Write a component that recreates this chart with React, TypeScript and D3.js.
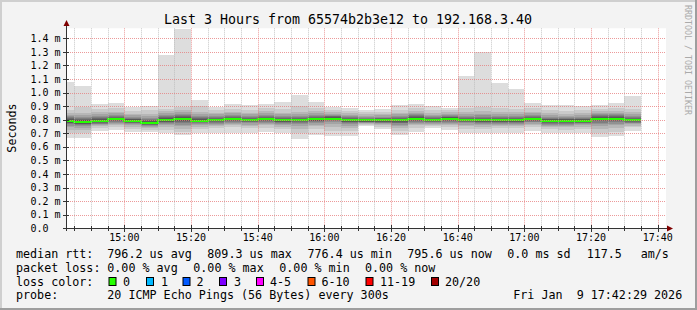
import React from 'react';
import * as d3 from 'd3';

const W = 697;
const H = 310;

const rangeStart = new Date(2026, 0, 9, 14, 42, 29);
const rangeEnd = new Date(2026, 0, 9, 17, 42, 29);

const barStarts = [
  '14:40', '14:45', '14:50', '14:55', '15:00', '15:05', '15:10', '15:15', '15:20', '15:25',
  '15:30', '15:35', '15:40', '15:45', '15:50', '15:55', '16:00', '16:05', '16:10', '16:15',
  '16:20', '16:25', '16:30', '16:35', '16:40', '16:45', '16:50', '16:55', '17:00', '17:05',
  '17:10', '17:15', '17:20', '17:25', '17:30',
];

// median rtt per 5-minute step (ms)
const medianRtt = [
  0.791, 0.783, 0.791, 0.805, 0.791, 0.776, 0.798, 0.805, 0.791, 0.798,
  0.805, 0.798, 0.805, 0.795, 0.798, 0.805, 0.809, 0.795, 0.795, 0.795,
  0.795, 0.808, 0.798, 0.808, 0.798, 0.795, 0.795, 0.795, 0.805, 0.791,
  0.791, 0.791, 0.808, 0.808, 0.796,
];

// 20 sorted ping rtts per step (ms)
const smokePings = [
  [0.663, 0.700, 0.728, 0.745, 0.757, 0.766, 0.773, 0.779, 0.784, 0.789, 0.793, 0.798, 0.804, 0.811, 0.818, 0.826, 0.836, 0.848, 0.870, 1.078],
  [0.663, 0.705, 0.728, 0.742, 0.752, 0.760, 0.767, 0.772, 0.777, 0.781, 0.785, 0.790, 0.796, 0.803, 0.811, 0.820, 0.832, 0.848, 0.895, 1.049],
  [0.717, 0.742, 0.752, 0.760, 0.767, 0.772, 0.777, 0.781, 0.785, 0.789, 0.793, 0.798, 0.804, 0.811, 0.819, 0.828, 0.840, 0.856, 0.880, 0.914],
  [0.724, 0.748, 0.760, 0.770, 0.778, 0.785, 0.790, 0.795, 0.799, 0.803, 0.807, 0.811, 0.816, 0.822, 0.829, 0.837, 0.847, 0.860, 0.885, 0.923],
  [0.707, 0.735, 0.750, 0.760, 0.767, 0.773, 0.778, 0.782, 0.786, 0.789, 0.793, 0.797, 0.802, 0.808, 0.815, 0.823, 0.833, 0.846, 0.868, 0.894],
  [0.707, 0.728, 0.740, 0.748, 0.755, 0.760, 0.765, 0.769, 0.772, 0.774, 0.778, 0.783, 0.789, 0.796, 0.805, 0.815, 0.828, 0.845, 0.870, 0.901],
  [0.700, 0.728, 0.746, 0.758, 0.767, 0.775, 0.781, 0.786, 0.791, 0.795, 0.800, 0.805, 0.811, 0.818, 0.826, 0.836, 0.848, 0.865, 0.880, 1.279],
  [0.685, 0.712, 0.735, 0.752, 0.765, 0.775, 0.783, 0.790, 0.796, 0.802, 0.807, 0.813, 0.819, 0.826, 0.834, 0.843, 0.855, 0.870, 0.895, 1.469],
  [0.705, 0.735, 0.750, 0.761, 0.769, 0.775, 0.780, 0.784, 0.787, 0.789, 0.793, 0.797, 0.803, 0.810, 0.818, 0.828, 0.840, 0.858, 0.905, 0.948],
  [0.700, 0.738, 0.752, 0.763, 0.772, 0.779, 0.785, 0.789, 0.793, 0.796, 0.800, 0.804, 0.809, 0.815, 0.822, 0.830, 0.840, 0.853, 0.870, 0.894],
  [0.700, 0.745, 0.760, 0.770, 0.778, 0.785, 0.791, 0.796, 0.800, 0.803, 0.807, 0.811, 0.816, 0.822, 0.829, 0.837, 0.847, 0.860, 0.880, 0.914],
  [0.705, 0.740, 0.755, 0.765, 0.773, 0.780, 0.785, 0.789, 0.793, 0.796, 0.800, 0.804, 0.809, 0.815, 0.822, 0.830, 0.840, 0.853, 0.875, 0.906],
  [0.707, 0.742, 0.758, 0.769, 0.778, 0.785, 0.791, 0.796, 0.800, 0.803, 0.807, 0.811, 0.816, 0.822, 0.829, 0.837, 0.848, 0.862, 0.885, 0.916],
  [0.700, 0.732, 0.748, 0.760, 0.769, 0.776, 0.782, 0.786, 0.790, 0.793, 0.797, 0.801, 0.806, 0.812, 0.819, 0.828, 0.839, 0.853, 0.880, 0.931],
  [0.656, 0.700, 0.735, 0.755, 0.767, 0.776, 0.783, 0.788, 0.792, 0.796, 0.800, 0.804, 0.809, 0.815, 0.822, 0.831, 0.843, 0.860, 0.900, 0.982],
  [0.690, 0.730, 0.752, 0.765, 0.775, 0.783, 0.789, 0.794, 0.799, 0.803, 0.807, 0.811, 0.816, 0.822, 0.829, 0.838, 0.849, 0.863, 0.890, 0.931],
  [0.680, 0.720, 0.750, 0.768, 0.780, 0.789, 0.795, 0.800, 0.804, 0.807, 0.811, 0.815, 0.819, 0.824, 0.830, 0.837, 0.845, 0.856, 0.872, 0.896],
  [0.680, 0.715, 0.740, 0.756, 0.767, 0.775, 0.781, 0.786, 0.790, 0.793, 0.797, 0.801, 0.806, 0.812, 0.819, 0.827, 0.837, 0.850, 0.868, 0.889],
  [0.754, 0.762, 0.768, 0.773, 0.777, 0.781, 0.784, 0.787, 0.790, 0.793, 0.797, 0.800, 0.804, 0.809, 0.815, 0.822, 0.830, 0.840, 0.855, 0.872],
  [0.731, 0.750, 0.760, 0.767, 0.773, 0.778, 0.782, 0.786, 0.789, 0.793, 0.797, 0.801, 0.805, 0.810, 0.816, 0.823, 0.832, 0.843, 0.860, 0.879],
  [0.685, 0.715, 0.738, 0.754, 0.765, 0.773, 0.779, 0.784, 0.788, 0.793, 0.797, 0.801, 0.806, 0.812, 0.819, 0.828, 0.839, 0.853, 0.875, 0.909],
  [0.712, 0.740, 0.758, 0.770, 0.779, 0.787, 0.793, 0.798, 0.802, 0.806, 0.810, 0.814, 0.819, 0.825, 0.832, 0.840, 0.850, 0.863, 0.885, 0.916],
  [0.737, 0.752, 0.763, 0.771, 0.777, 0.782, 0.786, 0.790, 0.793, 0.796, 0.800, 0.804, 0.808, 0.814, 0.820, 0.828, 0.838, 0.851, 0.872, 0.904],
  [0.724, 0.745, 0.760, 0.771, 0.779, 0.786, 0.792, 0.797, 0.801, 0.806, 0.810, 0.814, 0.818, 0.823, 0.829, 0.836, 0.845, 0.856, 0.870, 0.889],
  [0.700, 0.735, 0.752, 0.764, 0.773, 0.780, 0.785, 0.789, 0.793, 0.796, 0.800, 0.804, 0.809, 0.815, 0.822, 0.831, 0.843, 0.860, 0.890, 1.122],
  [0.700, 0.735, 0.750, 0.761, 0.770, 0.777, 0.782, 0.786, 0.790, 0.793, 0.797, 0.801, 0.807, 0.814, 0.822, 0.832, 0.845, 0.863, 0.895, 1.302],
  [0.700, 0.738, 0.752, 0.762, 0.770, 0.777, 0.782, 0.786, 0.790, 0.793, 0.797, 0.801, 0.806, 0.812, 0.820, 0.829, 0.841, 0.857, 0.885, 1.073],
  [0.700, 0.736, 0.751, 0.762, 0.770, 0.777, 0.782, 0.786, 0.790, 0.793, 0.797, 0.801, 0.806, 0.812, 0.819, 0.828, 0.840, 0.856, 0.880, 1.027],
  [0.719, 0.748, 0.762, 0.772, 0.780, 0.786, 0.791, 0.796, 0.800, 0.803, 0.807, 0.811, 0.816, 0.822, 0.829, 0.837, 0.847, 0.860, 0.883, 0.923],
  [0.700, 0.730, 0.745, 0.756, 0.764, 0.771, 0.776, 0.781, 0.785, 0.789, 0.793, 0.797, 0.802, 0.808, 0.815, 0.823, 0.833, 0.847, 0.872, 0.906],
  [0.700, 0.728, 0.744, 0.756, 0.765, 0.772, 0.778, 0.782, 0.786, 0.789, 0.793, 0.797, 0.802, 0.807, 0.813, 0.820, 0.829, 0.842, 0.868, 0.909],
  [0.700, 0.732, 0.747, 0.758, 0.766, 0.773, 0.778, 0.782, 0.786, 0.789, 0.793, 0.797, 0.802, 0.808, 0.815, 0.823, 0.833, 0.847, 0.870, 0.901],
  [0.670, 0.700, 0.730, 0.752, 0.767, 0.779, 0.788, 0.795, 0.800, 0.806, 0.810, 0.814, 0.819, 0.825, 0.832, 0.840, 0.850, 0.862, 0.882, 0.906],
  [0.683, 0.712, 0.740, 0.758, 0.771, 0.781, 0.789, 0.795, 0.800, 0.806, 0.810, 0.814, 0.819, 0.825, 0.832, 0.840, 0.850, 0.864, 0.888, 0.923],
  [0.719, 0.745, 0.757, 0.766, 0.773, 0.779, 0.784, 0.788, 0.791, 0.794, 0.798, 0.802, 0.807, 0.813, 0.820, 0.829, 0.840, 0.855, 0.880, 0.975],
];

const yTickValues = [0, 0.1, 0.2, 0.3, 0.4, 0.5, 0.6, 0.7, 0.8, 0.9, 1.0, 1.1, 1.2, 1.3, 1.4];
const yTickLabels = ['0.0', '0.1 m', '0.2 m', '0.3 m', '0.4 m', '0.5 m', '0.6 m', '0.7 m', '0.8 m', '0.9 m', '1.0 m', '1.1 m', '1.2 m', '1.3 m', '1.4 m'];
const xTickLabels = ['15:00', '15:20', '15:40', '16:00', '16:20', '16:40', '17:00', '17:20', '17:40'];

const lossLabels = ['0', '1', '2', '3', '4-5', '6-10', '11-19', '20/20'];
const lossColors = ['#26ff00', '#00b8ff', '#0059ff', '#7e00ff', '#ff00ff', '#ff5500', '#ff0000', '#a10000'];
const lossBoxX = [108.5, 146, 182.5, 219, 256, 307.5, 365.5, 431];
const lossTextX = [123, 161, 196.5, 234, 270, 321.5, 380, 445];

const rttRow = [
  { x: 16, t: 'median rtt:' },
  { x: 107.3, t: '796.2 us avg' },
  { x: 207.3, t: '809.3 us max' },
  { x: 307.5, t: '776.4 us min' },
  { x: 407.3, t: '795.6 us now' },
  { x: 507.3, t: '0.0 ms sd' },
  { x: 586.7, t: '117.5' },
  { x: 640.7, t: 'am/s' },
];
const lossRow = [
  { x: 16, t: 'packet loss:' },
  { x: 107.3, t: '0.00 % avg' },
  { x: 193.3, t: '0.00 % max' },
  { x: 279.3, t: '0.00 % min' },
  { x: 365, t: '0.00 % now' },
];

const MONO = '"DejaVu Sans Mono", monospace';

function hm(s: string): Date {
  const [h, m] = s.split(':').map(Number);
  return new Date(2026, 0, 9, h, m, 0);
}

export default function App() {
  const x = d3.scaleTime().domain([rangeStart, rangeEnd]).range([66, 666]);
  const y = d3.scaleLinear().domain([0, 1.474]).range([228.3, 28.3]);

  const bars = barStarts.map((s, i) => {
    const st = hm(s);
    const en = new Date(st.getTime() + 5 * 60 * 1000);
    return { x0: Math.max(x(st), 66), x1: x(en), pings: smokePings[i], med: medianRtt[i] };
  });

  const layerGray = d3.range(1, 11).map((ibot) => {
    const c = Math.floor((190 / 10) * (10 - ibot)) + 50;
    return d3.rgb(c, c, c).formatHex();
  });

  const medPts: [number, number][] = [];
  bars.forEach((b) => {
    const yy = Math.round(y(b.med));
    medPts.push([Math.round(b.x0), yy]);
    medPts.push([Math.round(b.x1), yy]);
  });
  const medLine = d3.line()(medPts) || '';

  const minorTimes = d3.timeMinute.every(5)!.range(hm('14:45'), new Date(rangeEnd.getTime() + 1));
  const majorTimes = xTickLabels.map(hm);
  const isMajor = (d: Date) => d.getMinutes() % 20 === 0;

  return (
    <div style={{ position: 'fixed', left: 0, top: 0 }}>
      <svg width={W} height={H} style={{ display: 'block' }}>
        <rect x={0} y={0} width={W} height={H} fill="#f3f3f3" />
        {/* 3D frame */}
        <line x1={0} y1={1} x2={W} y2={1} stroke="#cfcfcf" strokeWidth={2} />
        <line x1={1} y1={0} x2={1} y2={H} stroke="#cfcfcf" strokeWidth={2} />
        <line x1={0} y1={H - 1} x2={W} y2={H - 1} stroke="#9e9e9e" strokeWidth={2} />
        <line x1={W - 1} y1={0} x2={W - 1} y2={H} stroke="#9e9e9e" strokeWidth={2} />

        {/* canvas */}
        <rect x={66} y={28.3} width={600} height={200} fill="#ffffff" />

        {/* smoke */}
        {bars.map((b, i) => (
          <g key={i}>
            {layerGray.map((col, k) => {
              const lo = b.pings[k];
              const hi = b.pings[19 - k];
              return (
                <rect key={k} x={b.x0} width={b.x1 - b.x0} y={y(hi)} height={y(lo) - y(hi)} fill={col} shapeRendering="crispEdges" />
              );
            })}
          </g>
        ))}

        {/* median */}
        <path d={medLine} fill="none" stroke={lossColors[0]} strokeWidth={2} shapeRendering="crispEdges" />

        {/* grid */}
        {minorTimes.filter((d) => !isMajor(d)).map((d, i) => (
          <line key={'mn' + i} x1={Math.round(x(d)) + 0.5} x2={Math.round(x(d)) + 0.5} y1={28.3} y2={228} stroke="#b8b8b8" strokeDasharray="1,1" strokeOpacity={0.8} />
        ))}
        {majorTimes.map((d, i) => (
          <line key={'mj' + i} x1={Math.round(x(d)) + 0.5} x2={Math.round(x(d)) + 0.5} y1={28.3} y2={228} stroke="#e67878" strokeDasharray="1,1" strokeOpacity={0.75} />
        ))}
        {yTickValues.slice(1).map((v, i) => (
          <line key={'hy' + i} x1={66} x2={666} y1={Math.round(y(v)) + 0.5} y2={Math.round(y(v)) + 0.5} stroke="#e67878" strokeDasharray="1,1" strokeOpacity={0.75} />
        ))}

        {/* axes */}
        <line x1={66.5} x2={66.5} y1={231} y2={24} stroke="#333" strokeWidth={1} />
        <line x1={63} x2={668} y1={228.5} y2={228.5} stroke="#333" strokeWidth={1} />
        <path d="M63.5,26 L66.5,20 L69.5,26 Z" fill="#7f0000" />
        <path d="M667,225.5 L673,228.5 L667,231.5 Z" fill="#7f0000" />
        {yTickValues.map((v, i) => (
          <line key={'yt' + i} x1={63} x2={69} y1={Math.round(y(v)) + 0.5} y2={Math.round(y(v)) + 0.5} stroke="#333" strokeWidth={1} />
        ))}
        {minorTimes.map((d, i) => (
          <line key={'xt' + i} x1={Math.round(x(d)) + 0.5} x2={Math.round(x(d)) + 0.5} y1={isMajor(d) ? 225 : 226} y2={isMajor(d) ? 232 : 231} stroke="#333" strokeWidth={1} />
        ))}

        {/* tick labels */}
        {yTickValues.map((v, i) => (
          <text key={'yl' + i} x={30.5} y={y(v) + 3.6} fontFamily={MONO} fontSize={10} fill="#000">
            {yTickLabels[i]}
          </text>
        ))}
        {majorTimes.map((d, i) => (
          <text key={'xl' + i} x={x(d)} y={241.3} textAnchor="middle" fontFamily={MONO} fontSize={10} fill="#000">
            {xTickLabels[i]}
          </text>
        ))}

        {/* title & labels */}
        <text x={348} y={24} textAnchor="middle" fontFamily={MONO} fontSize={13.3} fill="#000" style={{ whiteSpace: 'pre' }}>
          Last 3 Hours from 65574b2b3e12 to 192.168.3.40
        </text>
        <text transform="translate(15.5,128) rotate(-90)" textAnchor="middle" fontFamily={MONO} fontSize={11.7} fill="#000">
          Seconds
        </text>
        <text transform="translate(684.5,5) rotate(90)" fontFamily={MONO} fontSize={8.3} fill="#aaaaaa">
          RRDTOOL / TOBI OETIKER
        </text>

        {/* legend */}
        {rttRow.map((r, i) => (
          <text key={'r' + i} x={r.x} y={257.5} fontFamily={MONO} fontSize={11.7} fill="#000" style={{ whiteSpace: 'pre' }}>{r.t}</text>
        ))}
        {lossRow.map((r, i) => (
          <text key={'l' + i} x={r.x} y={271.5} fontFamily={MONO} fontSize={11.7} fill="#000" style={{ whiteSpace: 'pre' }}>{r.t}</text>
        ))}
        <text x={16} y={285.6} fontFamily={MONO} fontSize={11.7} fill="#000">loss color:</text>
        {lossLabels.map((l, i) => (
          <g key={'lc' + i}>
            <rect x={lossBoxX[i] + 0.5} y={277.5} width={7} height={8} fill={lossColors[i]} stroke="#000" strokeWidth={1} />
            <text x={lossTextX[i]} y={285.6} fontFamily={MONO} fontSize={11.7} fill="#000">{l}</text>
          </g>
        ))}
        <text x={16} y={299} fontFamily={MONO} fontSize={11.7} fill="#000">probe:</text>
        <text x={107.3} y={299} fontFamily={MONO} fontSize={11.7} fill="#000" style={{ whiteSpace: 'pre' }}>20 ICMP Echo Pings (56 Bytes) every 300s</text>
        <text x={513.3} y={299} fontFamily={MONO} fontSize={11.7} fill="#000" style={{ whiteSpace: 'pre' }}>Fri Jan  9 17:42:29 2026</text>
      </svg>
    </div>
  );
}
